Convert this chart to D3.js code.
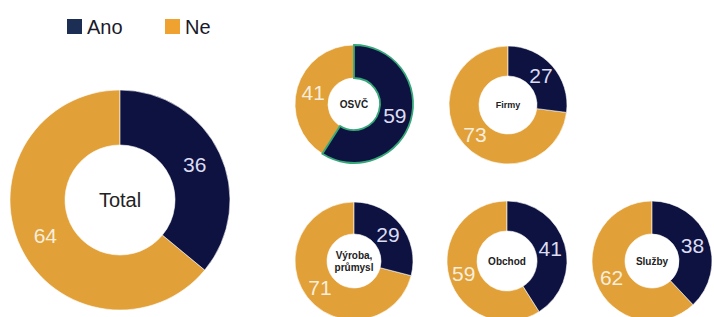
<!DOCTYPE html>
<html>
<head>
<meta charset="utf-8">
<script src="https://cdn.jsdelivr.net/npm/d3@7"></script>
<style>
  body { margin: 0; background: #fff; }
  svg { display: block; font-family: "Liberation Sans", Arial, sans-serif; }
</style>
</head>
<body>
<div id="chart"></div>
<script>
const seriesNames = ['Ano', 'Ne']
const groups = ['Total', 'OSVČ', 'Firmy', 'Výroba, průmysl', 'Obchod', 'Služby']
const ano = [36, 59, 27, 29, 41, 38]
const ne = [64, 41, 73, 71, 59, 62]
const highlighted = ['OSVČ']

const width = 714
const height = 317
const colors = { Ano: '#0d1240', Ne: '#e1a038' }
const legendColors = { Ano: '#1d2e55', Ne: '#f0a230' }
const labelColors = { Ano: '#dcdcf2', Ne: '#f8eedb' }

// layout of each donut: centre and radii
const layout = [
  { cx: 120, cy: 200, r: 110, r0: 55, font: 21, centerFont: 20, centerWeight: 'normal' },
  { cx: 354, cy: 104, r: 59, r0: 26, font: 21, centerFont: 10, centerWeight: 'bold' },
  { cx: 508, cy: 105, r: 59, r0: 29, font: 21, centerFont: 9, centerWeight: 'bold' },
  { cx: 354, cy: 261, r: 59, r0: 27, font: 21, centerFont: 10, centerWeight: 'bold' },
  { cx: 507, cy: 261, r: 60, r0: 30, font: 21, centerFont: 10, centerWeight: 'bold' },
  { cx: 652, cy: 261, r: 60, r0: 27, font: 21, centerFont: 10, centerWeight: 'bold' }
]

const svg = d3.select('#chart').append('svg')
  .attr('width', width)
  .attr('height', height)

const pie = d3.pie()
  .sort(null)
  .value(d => d.value)

groups.forEach((name, i) => {
  const L = layout[i]
  const data = [
    { key: 'Ano', value: ano[i] },
    { key: 'Ne', value: ne[i] }
  ]
  const arc = d3.arc().innerRadius(L.r0).outerRadius(L.r)
  const labelArc = d3.arc().innerRadius((L.r + L.r0) / 2).outerRadius((L.r + L.r0) / 2)
  const isHi = highlighted.includes(name)

  const g = svg.append('g')
    .attr('transform', `translate(${L.cx},${L.cy})`)

  // highlighted donut: selected (Ano) slice gets a green outline, drawn last
  g.selectAll('path')
    .data(pie(data).sort((a, b) => (a.data.key === 'Ano') - (b.data.key === 'Ano')))
    .join('path')
    .attr('fill', d => colors[d.data.key])
    .attr('stroke', d => isHi && d.data.key === 'Ano' ? '#34a877' : '#fff')
    .attr('stroke-width', d => isHi && d.data.key === 'Ano' ? 1.8 : 0.6)
    .attr('d', arc)

  g.selectAll('text.val')
    .data(pie(data))
    .join('text')
    .attr('class', 'val')
    .attr('transform', d => `translate(${labelArc.centroid(d)})`)
    .attr('text-anchor', 'middle')
    .attr('dy', '0.36em')
    .attr('font-size', L.font)
    .attr('fill', d => labelColors[d.data.key])
    .text(d => d.data.value)

  const lines = name.includes(', ') ? [name.split(', ')[0] + ',', name.split(', ')[1]] : [name]
  const center = g.append('text')
    .attr('text-anchor', 'middle')
    .attr('font-size', L.centerFont)
    .attr('font-weight', L.centerWeight)
    .attr('fill', '#222')
  lines.forEach((t, j) => {
    center.append('tspan')
      .attr('x', 0)
      .attr('y', (j - (lines.length - 1) / 2) * L.centerFont * 1.2)
      .attr('dy', '0.35em')
      .text(t)
  })
})

// legend
const legendX = d3.scalePoint().domain(seriesNames).range([67, 165])
const legend = svg.append('g')
  .selectAll('g')
  .data(seriesNames)
  .join('g')
  .attr('transform', d => `translate(${legendX(d)},19)`)
legend.append('rect')
  .attr('width', 15)
  .attr('height', 15)
  .attr('fill', d => legendColors[d])
legend.append('text')
  .attr('x', 20)
  .attr('y', 15)
  .attr('font-size', 20)
  .attr('fill', '#1a1a2a')
  .text(d => d)
</script>
</body>
</html>
